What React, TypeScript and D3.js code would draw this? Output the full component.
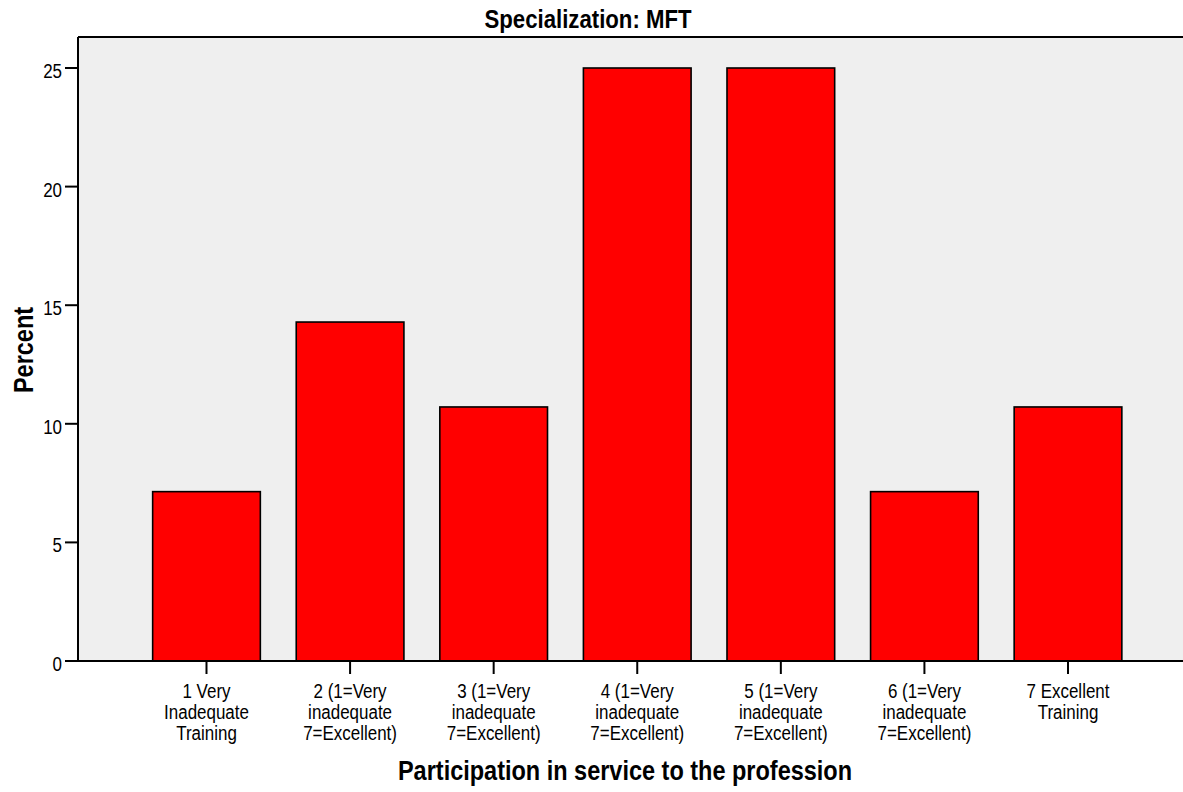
import React from 'react';
import * as d3 from "d3";

const categories = [
    ["1 Very", "Inadequate", "Training"],
    ["2 (1=Very", "inadequate", "7=Excellent)"],
    ["3 (1=Very", "inadequate", "7=Excellent)"],
    ["4 (1=Very", "inadequate", "7=Excellent)"],
    ["5 (1=Very", "inadequate", "7=Excellent)"],
    ["6 (1=Very", "inadequate", "7=Excellent)"],
    ["7 Excellent", "Training"],
];
const percents = [7.14, 14.29, 10.71, 25, 25, 7.14, 10.71];
const yTicks = [0, 5, 10, 15, 20, 25];

const width = 1183, height = 792;
const plotLeft = 78, plotTop = 37, plotRight = 1183, plotBottom = 661;
const font = "'Liberation Sans', Arial, sans-serif";
// the original uses a condensed face, squeeze regular glyphs sideways
const squeeze = 0.87;

const App = () => {
    const keys = categories.map((c, i) => String(i));
    const x = d3.scaleBand<string>()
        .domain(keys)
        .range([134.7, 1139.8])
        .paddingInner(0.25)
        .paddingOuter(0.125);
    const y = d3.scaleLinear().domain([0, 25]).range([plotBottom, 68]);

    return (
        <svg width={width} height={height} style={{ position: 'absolute', left: 0, top: 0, fontFamily: font }}>
            <rect x={plotLeft} y={plotTop} width={plotRight - plotLeft} height={plotBottom - plotTop} fill="#efefef" />
            <line x1={plotLeft} x2={plotRight} y1={plotTop} y2={plotTop} stroke="#000" strokeWidth={2} />

            {percents.map((v, i) => (
                <rect key={i} x={x(keys[i])} y={y(v)} width={x.bandwidth()} height={y(0) - y(v)}
                    fill="#ff0000" stroke="#000" strokeWidth={1.6} />
            ))}

            <line x1={plotLeft} x2={plotLeft} y1={plotTop} y2={plotBottom} stroke="#000" strokeWidth={2} />
            <line x1={plotLeft} x2={plotRight} y1={plotBottom} y2={plotBottom} stroke="#000" strokeWidth={2} />

            {yTicks.map(t => (
                <g key={t} transform={`translate(0, ${y(t)})`}>
                    <line x1={plotLeft - 13} x2={plotLeft} stroke="#000" strokeWidth={2} />
                    <text transform={`translate(${plotLeft - 16}, 10) scale(${squeeze}, 1)`} textAnchor="end" fontSize={19.5}>{t}</text>
                </g>
            ))}

            {categories.map((lines, i) => {
                const cx = x(keys[i])! + x.bandwidth() / 2;
                return (
                    <g key={i}>
                        <line x1={cx} x2={cx} y1={plotBottom} y2={plotBottom + 13} stroke="#000" strokeWidth={2} />
                        <text transform={`translate(${cx}, 0) scale(${squeeze}, 1)`} textAnchor="middle" fontSize={19.5}>
                            {lines.map((l, j) => (
                                <tspan key={j} x={0} y={698 + j * 21}>{l}</tspan>
                            ))}
                        </text>
                    </g>
                );
            })}

            <text transform={`translate(588, 28) scale(${squeeze}, 1)`} textAnchor="middle" fontSize={25.5} fontWeight="bold">Specialization: MFT</text>
            <text transform={`translate(625, 780) scale(${squeeze}, 1)`} textAnchor="middle" fontSize={27} fontWeight="bold">Participation in service to the profession</text>
            <text transform={`translate(33, 350) rotate(-90) scale(${squeeze}, 1)`} textAnchor="middle" fontSize={27} fontWeight="bold">Percent</text>
        </svg>
    );
};

export default App;
